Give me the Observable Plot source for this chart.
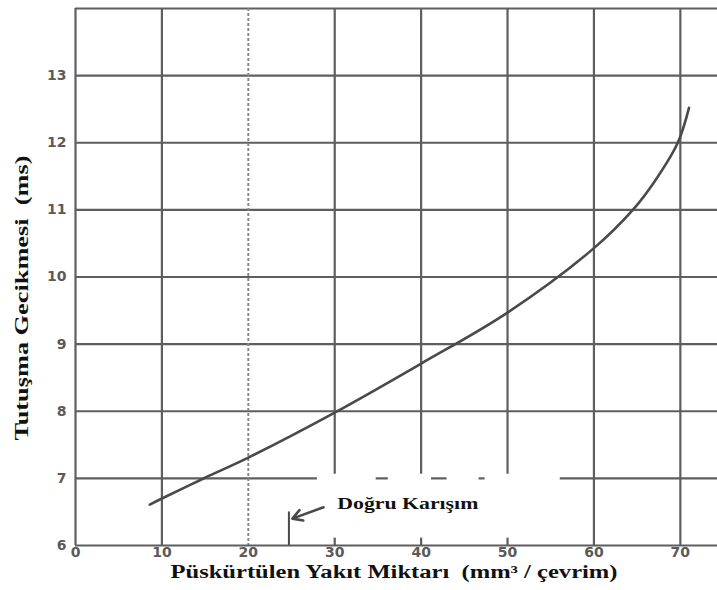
<!DOCTYPE html>
<html>
<head>
<meta charset="utf-8">
<script src="https://cdn.jsdelivr.net/npm/d3@7"></script>
<script src="https://cdn.jsdelivr.net/npm/@observablehq/plot@0.6"></script>
<style>
  html, body { margin: 0; padding: 0; background: #fff; }
  #chart svg { display: block; }
</style>
</head>
<body>
<div id="chart"></div>
<script>
// Ignition delay versus injected fuel quantity
const fuelQty = [8.6, 10, 15, 20, 30, 40, 50, 60, 64.5, 67, 69.7, 71.0];   // mm³ / çevrim
const delayMs = [6.61, 6.70, 7.01, 7.31, 7.98, 8.71, 9.47, 10.43, 11.0, 11.42, 12.0, 12.52]; // ms

const xTicks = [0, 10, 20, 30, 40, 50, 60, 70];
const yTicks = [6, 7, 8, 9, 10, 11, 12, 13];
const yTop = 14;
const xMax = 74.3;

// stoichiometric mixture marker
const mixtureLabel = "Doğru Karışım";
const mixtureX = 24.7;

const xTitle = "Püskürtülen Yakıt Miktarı  (mm³ / çevrim)";
const yTitle = "Tutuşma Gecikmesi  (ms)";

const curve = fuelQty.map((x, i) => ({x, y: delayMs[i]}));

// cleared area behind the annotation
const clear = {x1: 28.0, x2: 56.1, y1: 6.11, y2: 7.06};

const gridColor = "#5e5e5e";
const solidX = xTicks.filter(v => v !== 20);
const fullX = solidX.filter(v => v < clear.x1 || v > clear.x2);
const brokenX = solidX.filter(v => v > clear.x1 && v < clear.x2);
const fullY = [8, 9, 10, 11, 12, 13, yTop];

const hSegments7 = [
  {x1: 0, x2: clear.x1},
  {x1: 34.8, x2: 36.2},
  {x1: 41.2, x2: 43.0},
  {x1: 46.7, x2: 47.4},
  {x1: clear.x2, x2: xMax}
];

const tickFont = "DejaVu Sans, sans-serif";
const serif = "Liberation Serif, Times New Roman, serif";

const chart = Plot.plot({
  width: 717,
  height: 590,
  marginLeft: 75,
  marginRight: 0,
  marginTop: 8,
  marginBottom: 45,
  x: {domain: [0, xMax]},
  y: {domain: [6, yTop]},
  marks: [
    // horizontal grid
    Plot.ruleY(fullY, {stroke: gridColor, strokeWidth: 2.2}),
    Plot.ruleY(hSegments7, {y: () => 7, x1: "x1", x2: "x2", stroke: gridColor, strokeWidth: 2.2}),
    // vertical grid
    Plot.ruleX(fullX, {stroke: gridColor, strokeWidth: 2.2}),
    Plot.ruleX([20], {stroke: "#858585", strokeWidth: 1.9, strokeDasharray: "3,2"}),
    Plot.ruleX(brokenX, {y1: clear.y2, y2: yTop, stroke: gridColor, strokeWidth: 2.2}),
    Plot.ruleX(brokenX, {y1: 6, y2: clear.y1, stroke: gridColor, strokeWidth: 2.2}),
    // axes frame
    Plot.ruleY([6], {stroke: gridColor, strokeWidth: 2.2}),
    // ignition delay curve
    Plot.line(curve, {x: "x", y: "y", curve: "catmull-rom", stroke: "#4a4a4a", strokeWidth: 2.6}),
    // mixture marker and annotation
    Plot.ruleX([mixtureX], {y1: 6, y2: 6.5, stroke: "#4a4a4a", strokeWidth: 2}),
    Plot.arrow([{x1: 28.7, y1: 6.57, x2: 25.1, y2: 6.40}], {
      x1: "x1", y1: "y1", x2: "x2", y2: "y2",
      stroke: "#4a4a4a", strokeWidth: 2.6, headLength: 10
    }),
    Plot.text([mixtureLabel], {
      x: 30.3, y: 6.63, textAnchor: "start", fontFamily: serif,
      fontWeight: "bold", fontSize: 17.5, fill: "#111"
    }),
    // axes
    Plot.axisY(yTicks, {
      tickSize: 0, tickPadding: 9, tickFormat: "d", fontFamily: tickFont, fontWeight: "bold",
      fontSize: 14, fill: "#5a5a5a", label: null
    }),
    Plot.axisX(xTicks, {
      tickSize: 0, tickPadding: 2, tickFormat: "d", fontFamily: tickFont, fontWeight: "bold",
      fontSize: 14, fill: "#5a5a5a", label: null
    }),
    // axis titles
    Plot.text([xTitle], {
      frameAnchor: "bottom", dy: 32, dx: -2.5, fontFamily: serif,
      fontWeight: "bold", fontSize: 18.5, fill: "#111"
    }),
    Plot.text([yTitle], {
      frameAnchor: "left", textAnchor: "middle", dx: -53, dy: 21, rotate: -90, fontFamily: serif,
      fontWeight: "bold", fontSize: 18, fill: "#111"
    })
  ]
});

// stretch the titles to their printed widths
const lengths = new Map([[xTitle, 447], [yTitle, 285], [mixtureLabel, 141]]);
d3.select(chart).selectAll("text").each(function () {
  const len = lengths.get(this.textContent);
  if (len) d3.select(this).attr("textLength", len).attr("lengthAdjust", "spacingAndGlyphs");
});

document.getElementById("chart").appendChild(chart);
</script>
</body>
</html>
